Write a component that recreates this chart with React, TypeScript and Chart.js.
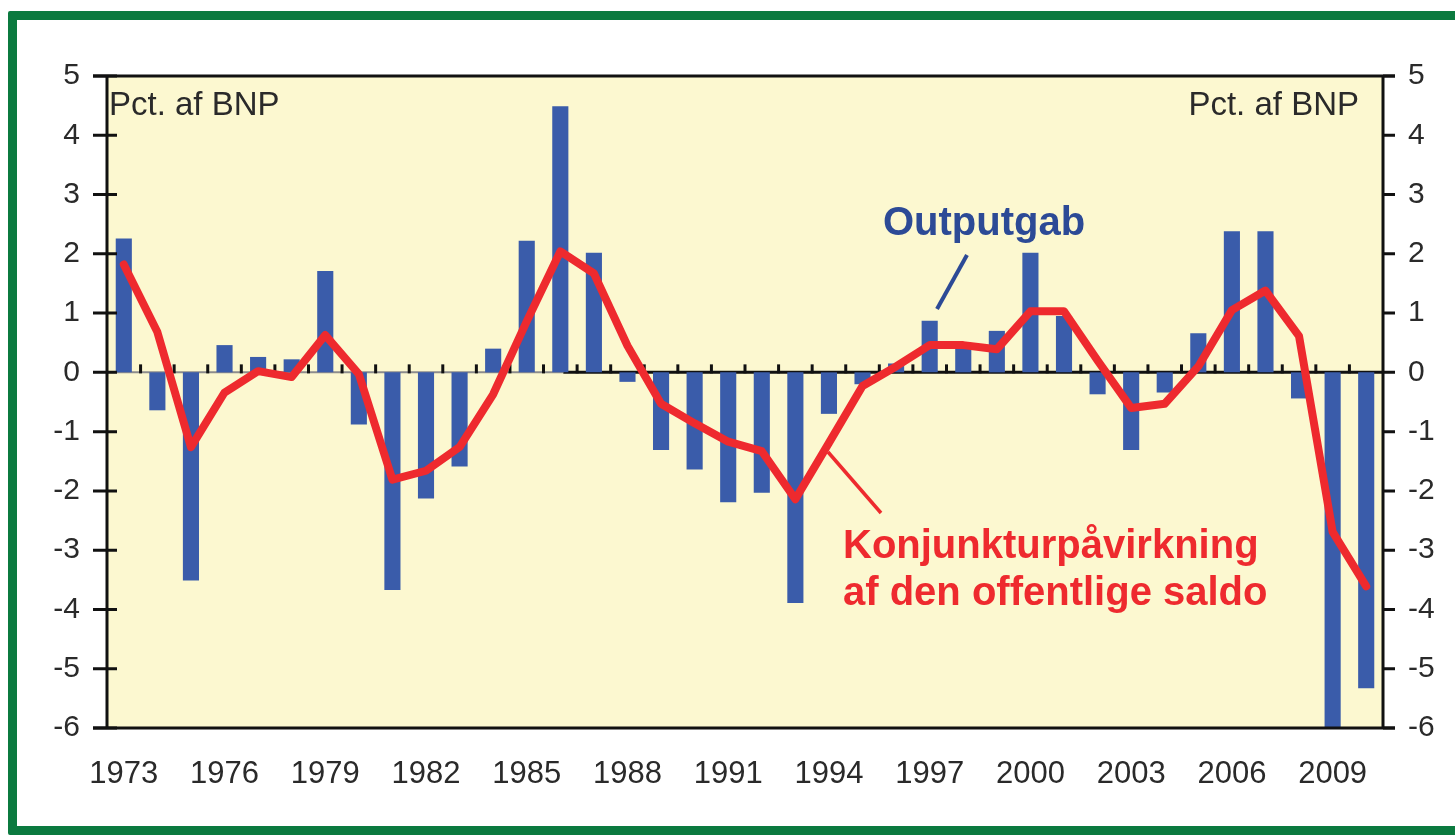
import React, { useEffect, useRef } from "react";
import { Chart, registerables } from "chart.js";

Chart.register(...registerables);

const years = [
  "1973", "1974", "1975", "1976", "1977", "1978", "1979", "1980", "1981", "1982",
  "1983", "1984", "1985", "1986", "1987", "1988", "1989", "1990", "1991", "1992",
  "1993", "1994", "1995", "1996", "1997", "1998", "1999", "2000", "2001", "2002",
  "2003", "2004", "2005", "2006", "2007", "2008", "2009", "2010",
];

const outputGap = [
  2.26, -0.64, -3.51, 0.46, 0.26, 0.22, 1.71, -0.88, -3.67, -2.13,
  -1.59, 0.4, 2.22, 4.49, 2.02, -0.16, -1.31, -1.64, -2.19, -2.03,
  -3.89, -0.7, -0.2, 0.15, 0.87, 0.5, 0.7, 2.02, 0.95, -0.37,
  -1.31, -0.34, 0.66, 2.38, 2.38, -0.44, -6.2, -5.33,
];

const budgetEffect = [
  1.82, 0.68, -1.26, -0.34, 0.02, -0.08, 0.63, -0.03, -1.81, -1.66,
  -1.26, -0.37, 0.86, 2.04, 1.67, 0.45, -0.53, -0.86, -1.17, -1.33,
  -2.14, -1.19, -0.23, 0.1, 0.46, 0.46, 0.39, 1.03, 1.03, 0.2,
  -0.6, -0.53, 0.1, 1.05, 1.38, 0.61, -2.69, -3.61,
];

const shownYearLabels = [
  "1973", "1976", "1979", "1982", "1985", "1988", "1991", "1994",
  "1997", "2000", "2003", "2006", "2009",
];

const unitLabel = "Pct. af BNP";
const gapLabel = "Outputgab";
const effectLabelLines = ["Konjunkturpåvirkning", "af den offentlige saldo"];

const FONT = "'Liberation Sans', Arial, Helvetica, sans-serif";
const BG_YELLOW = "#fcf8d0";
const BAR_BLUE = "#3a5caa";
const LINE_RED = "#ee2a2e";
const TEXT_BLUE = "#2c4a96";
const AXIS = "#111111";

const decorPlugin = {
  id: "decor",
  beforeDraw(chart: any) {
    const { ctx, chartArea } = chart;
    ctx.save();
    ctx.fillStyle = BG_YELLOW;
    ctx.fillRect(chartArea.left, chartArea.top, chartArea.right - chartArea.left, chartArea.bottom - chartArea.top);
    ctx.restore();
  },
  beforeDatasetsDraw(chart: any) {
    const { ctx, chartArea, scales } = chart;
    const x = scales.x;
    const y = scales.y;
    const y0 = y.getPixelForValue(0);
    const split = x.getPixelForValue(13) + 3;
    ctx.save();
    ctx.strokeStyle = "#8c8c8c";
    ctx.lineWidth = 2;
    ctx.beginPath();
    ctx.moveTo(chartArea.left, y0);
    ctx.lineTo(split, y0);
    ctx.stroke();
    ctx.strokeStyle = AXIS;
    ctx.lineWidth = 3;
    ctx.beginPath();
    ctx.moveTo(split, y0);
    ctx.lineTo(chartArea.right, y0);
    ctx.stroke();
    ctx.lineWidth = 3;
    for (let i = 0; i < years.length - 1; i++) {
      const bx = (x.getPixelForValue(i) + x.getPixelForValue(i + 1)) / 2;
      ctx.beginPath();
      ctx.moveTo(bx, y0 + 1);
      ctx.lineTo(bx, y0 - 8);
      ctx.stroke();
    }
    ctx.restore();
  },
  afterDatasetsDraw(chart: any) {
    const { ctx, chartArea, scales } = chart;
    const y = scales.y;
    ctx.save();
    ctx.strokeStyle = AXIS;
    ctx.lineWidth = 3;
    ctx.lineCap = "butt";
    ctx.beginPath();
    ctx.moveTo(chartArea.left, chartArea.top);
    ctx.lineTo(chartArea.left, chartArea.bottom);
    ctx.moveTo(chartArea.right, chartArea.top);
    ctx.lineTo(chartArea.right, chartArea.bottom);
    ctx.moveTo(chartArea.left - 14, chartArea.top);
    ctx.lineTo(chartArea.right + 12, chartArea.top);
    ctx.moveTo(chartArea.left - 14, chartArea.bottom);
    ctx.lineTo(chartArea.right + 12, chartArea.bottom);
    ctx.stroke();
    ctx.lineWidth = 3;
    for (let v = -6; v <= 5; v++) {
      const py = y.getPixelForValue(v);
      ctx.beginPath();
      ctx.moveTo(chartArea.left - 14, py);
      ctx.lineTo(chartArea.left + 10, py);
      ctx.moveTo(chartArea.right, py);
      ctx.lineTo(chartArea.right + 12, py);
      ctx.stroke();
    }
    ctx.fillStyle = "#2a2a2a";
    ctx.font = `33px ${FONT}`;
    ctx.textBaseline = "alphabetic";
    ctx.textAlign = "left";
    ctx.fillText(unitLabel, chartArea.left + 2, 115);
    ctx.textAlign = "right";
    ctx.fillText(unitLabel, chartArea.right - 24, 115);
    ctx.font = `bold 40px ${FONT}`;
    ctx.textAlign = "left";
    ctx.fillStyle = TEXT_BLUE;
    ctx.fillText(gapLabel, 883, 235);
    ctx.fillStyle = LINE_RED;
    ctx.fillText(effectLabelLines[0], 843, 558);
    ctx.fillText(effectLabelLines[1], 843, 605);
    ctx.lineCap = "butt";
    ctx.strokeStyle = TEXT_BLUE;
    ctx.lineWidth = 4;
    ctx.beginPath();
    ctx.moveTo(967, 255);
    ctx.lineTo(937, 309);
    ctx.stroke();
    ctx.strokeStyle = LINE_RED;
    ctx.lineWidth = 3.5;
    ctx.beginPath();
    ctx.moveTo(828, 452);
    ctx.lineTo(881, 513);
    ctx.stroke();
    ctx.restore();
  },
};

export default function App() {
  const canvasRef = useRef<HTMLCanvasElement | null>(null);

  useEffect(() => {
    const canvas = canvasRef.current;
    if (!canvas) return;
    const chart = new Chart(canvas, {
      type: "bar",
      data: {
        labels: years,
        datasets: [
          {
            type: "line",
            label: "Konjunkturpåvirkning af den offentlige saldo",
            data: budgetEffect,
            borderColor: LINE_RED,
            backgroundColor: LINE_RED,
            borderWidth: 8,
            pointRadius: 0,
            tension: 0,
            borderJoinStyle: "round",
            borderCapStyle: "round",
            order: 0,
            yAxisID: "y",
          } as any,
          {
            type: "bar",
            label: "Outputgab",
            data: outputGap,
            backgroundColor: BAR_BLUE,
            borderWidth: 0,
            barPercentage: 0.48,
            categoryPercentage: 1,
            order: 1,
            yAxisID: "y",
          } as any,
        ],
      },
      options: {
        responsive: false,
        animation: false,
        events: [],
        layout: { padding: { top: 76, left: 0, right: 0, bottom: 0 } },
        plugins: {
          legend: { display: false },
          tooltip: { enabled: false },
          title: { display: false },
        },
        scales: {
          x: {
            grid: { display: false, drawTicks: false, tickLength: 0 },
            border: { display: false },
            ticks: {
              autoSkip: false,
              maxRotation: 0,
              minRotation: 0,
              padding: 28,
              color: "#2a2a2a",
              font: { family: FONT, size: 31 },
              callback: function (this: any, value: any) {
                const lbl = years[value as number];
                return shownYearLabels.includes(lbl) ? lbl : "";
              },
            },
            afterFit: (scale: any) => {
              scale.height = 107;
            },
          },
          y: {
            position: "left",
            min: -6,
            max: 5,
            grid: { display: false, drawTicks: false, tickLength: 0 },
            border: { display: false },
            ticks: {
              stepSize: 1,
              padding: 27,
              color: "#2a2a2a",
              font: { family: FONT, size: 30 },
            },
            afterFit: (scale: any) => {
              scale.width = 107;
            },
          },
          y2: {
            position: "right",
            min: -6,
            max: 5,
            grid: { display: false, drawTicks: false, tickLength: 0 },
            border: { display: false },
            ticks: {
              stepSize: 1,
              padding: 25,
              color: "#2a2a2a",
              font: { family: FONT, size: 30 },
            },
            afterFit: (scale: any) => {
              scale.width = 72;
            },
          },
        },
      },
      plugins: [decorPlugin],
    });
    return () => chart.destroy();
  }, []);

  return (
    <div
      style={{
        position: "fixed",
        left: 0,
        top: 0,
        width: 1455,
        height: 835,
        background: "#ffffff",
        overflow: "hidden",
      }}
    >
      <div
        style={{
          position: "absolute",
          left: 8,
          top: 11,
          width: 1470,
          height: 824,
          boxSizing: "border-box",
          border: "9px solid #0b7a3f",
          borderRadius: 2,
          background: "#ffffff",
        }}
      />
      <canvas
        ref={canvasRef}
        width={1455}
        height={835}
        style={{ position: "absolute", left: 0, top: 0, width: 1455, height: 835 }}
      />
    </div>
  );
}
